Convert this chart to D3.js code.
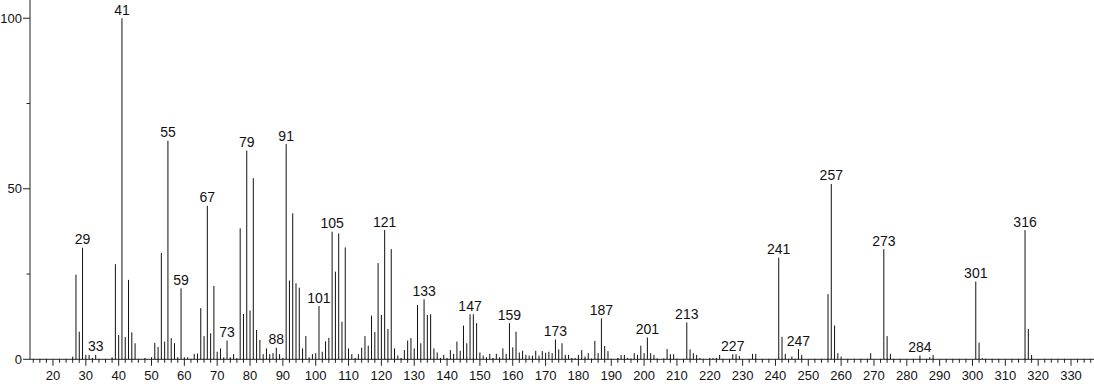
<!DOCTYPE html>
<html lang="en">
<head>
<meta charset="UTF-8">
<title>Mass spectrum</title>
<script src="https://d3js.org/d3.v7.min.js"></script>
<style>
  body { margin: 0; background: #fff; }
  svg { display: block; font-family: "Liberation Sans", Arial, sans-serif; }
</style>
</head>
<body>
<svg width="1094" height="384"></svg>
<script>
// m/z values and their relative intensities
const mz = [26,27,28,29,30,31,32,33,38,39,40,41,42,43,44,45,48,50,51,52,53,54,55,56,57,58,59,60,61,63,64,65,66,67,68,69,70,71,72,73,74,75,76,77,78,79,80,81,82,83,84,85,86,87,88,89,90,91,92,93,94,95,96,97,98,99,100,101,102,103,104,105,106,107,108,109,110,111,112,113,114,115,116,117,118,119,120,121,122,123,124,125,126,127,128,129,130,131,132,133,134,135,136,137,138,139,140,141,142,143,144,145,146,147,148,149,150,151,152,153,154,155,156,157,158,159,160,161,162,163,164,165,166,167,168,169,170,171,172,173,174,175,176,177,178,179,180,181,182,183,184,185,186,187,188,189,190,192,193,194,195,196,197,198,199,200,201,202,203,204,206,207,208,209,210,213,214,215,216,217,220,221,222,223,227,228,229,233,234,241,242,243,245,247,248,256,257,258,259,260,269,273,274,275,284,287,288,301,302,303,316,317,318]
const intensity = [0.8,24.8,8.1,32.7,1.3,1.3,0.4,1.3,0.6,27.9,7.1,100,6.5,23.3,7.9,4.7,0.4,0.6,4.8,3.6,31.2,5.2,64.1,6.2,4.7,0.6,20.8,0.6,0.6,1.6,1.7,15.0,6.8,45.0,7.6,21.5,2.2,3.2,0.6,5.5,0.6,1.5,0.3,38.4,13.3,61.2,14.3,53.1,8.6,5.7,1.5,3.2,1.5,1.8,3.4,1.5,0.4,63.1,23.1,42.8,22.3,21.0,3.2,6.8,0.6,1.5,1.8,15.6,2.2,5.3,6.3,37.4,25.7,36.9,11.0,32.8,3.2,1.5,0.4,1.5,3.4,6.8,4.0,12.8,8.0,28.2,13.0,37.9,8.9,32.3,3.2,1.1,0.4,2.7,5.5,6.2,3.2,15.9,4.7,17.6,13.0,13.2,3.2,2.0,0.4,1.3,0.4,2.7,1.6,5.2,2.5,9.9,4.7,13.2,13.2,10.6,2.0,1.1,0.6,1.6,0.4,1.6,0.6,3.2,1.6,10.6,3.5,8.1,2.0,2.5,1.3,1.1,1.1,2.5,1.1,2.4,1.9,2.2,1.8,5.8,2.9,4.7,1.3,1.3,0.4,0.4,1.3,2.7,0.8,1.8,0.2,5.4,1.8,12.0,3.9,2.4,0.2,0.4,1.3,1.3,0.4,0.2,1.8,1.3,4.0,1.8,6.4,1.8,1.3,0.2,0.2,3.0,1.5,1.5,0.2,10.8,2.9,1.8,1.3,0.4,0.4,0.4,0.4,1.3,1.5,1.5,1.0,1.6,1.6,29.8,6.6,1.6,0.8,3.0,1.3,19.1,51.4,9.9,1.8,0.8,1.8,32.3,6.8,1.6,1.1,0.6,1.3,22.8,4.9,0.3,37.9,8.9,1.3]

// peaks that carry an m/z label
const labeled = [29,33,41,55,59,67,73,79,88,91,101,105,121,133,147,159,173,187,201,213,227,241,247,257,273,284,301,316]

const xTicks = d3.range(20, 331, 10)
const xMinorTicks = d3.range(14, 337, 2).filter(d => d % 10 !== 0)
const yTicks = [0, 50, 100]
const yMinorTicks = [25, 75]

const peaks = mz.map((m, i) => ({mz: m, value: intensity[i]}))

let svg = d3.select('svg')
let width = +svg.attr('width')

let x = d3.scaleLinear().domain([13, 337]).range([30, 1094])
let y = d3.scaleLinear().domain([0, 105.35]).range([359.3, 0])

// x axis
let xAxis = svg.append('g').attr('transform', `translate(0,${y(0)})`)
xAxis.append('line')
    .attr('x1', x(13)).attr('x2', width)
    .attr('stroke', '#222')
xAxis.selectAll('.minor')
    .data(xMinorTicks)
    .enter()
    .append('line')
    .attr('x1', d => x(d)).attr('x2', d => x(d))
    .attr('y1', -0.5).attr('y2', 3.5)
    .attr('stroke', '#222')
xAxis.selectAll('.major')
    .data(xTicks)
    .enter()
    .append('line')
    .attr('x1', d => x(d)).attr('x2', d => x(d))
    .attr('y1', 0).attr('y2', 6.5)
    .attr('stroke', '#222')
xAxis.selectAll('text')
    .data(xTicks)
    .enter()
    .append('text')
    .attr('x', d => x(d))
    .attr('y', 20.5)
    .attr('text-anchor', 'middle')
    .attr('font-size', 13)
    .attr('fill', '#111')
    .text(d => d)

// y axis
let yAxis = svg.append('g').attr('transform', `translate(${x(13)},0)`)
yAxis.append('line')
    .attr('y1', 0).attr('y2', y(0))
    .attr('stroke', '#222')
yAxis.selectAll('.major')
    .data(yTicks)
    .enter()
    .append('line')
    .attr('x1', -7).attr('x2', 0)
    .attr('y1', d => y(d)).attr('y2', d => y(d))
    .attr('stroke', '#222')
yAxis.selectAll('.minor')
    .data(yMinorTicks)
    .enter()
    .append('line')
    .attr('x1', -3.5).attr('x2', 0)
    .attr('y1', d => y(d)).attr('y2', d => y(d))
    .attr('stroke', '#222')
yAxis.selectAll('text')
    .data(yTicks)
    .enter()
    .append('text')
    .attr('x', -8)
    .attr('y', d => y(d))
    .attr('dy', '0.35em')
    .attr('text-anchor', 'end')
    .attr('font-size', 13)
    .attr('fill', '#111')
    .text(d => d)

// spectrum sticks
svg.append('g')
    .selectAll('line')
    .data(peaks)
    .enter()
    .append('line')
    .attr('x1', d => x(d.mz)).attr('x2', d => x(d.mz))
    .attr('y1', y(0)).attr('y2', d => y(d.value))
    .attr('stroke', '#111')
    .attr('stroke-width', 1)

// peak labels
svg.append('g')
    .selectAll('text')
    .data(peaks.filter(d => labeled.includes(d.mz)))
    .enter()
    .append('text')
    .attr('x', d => x(d.mz))
    .attr('y', d => y(d.value) - 3.5)
    .attr('text-anchor', 'middle')
    .attr('font-size', 14)
    .attr('fill', '#111')
    .text(d => d.mz)
</script>
</body>
</html>
